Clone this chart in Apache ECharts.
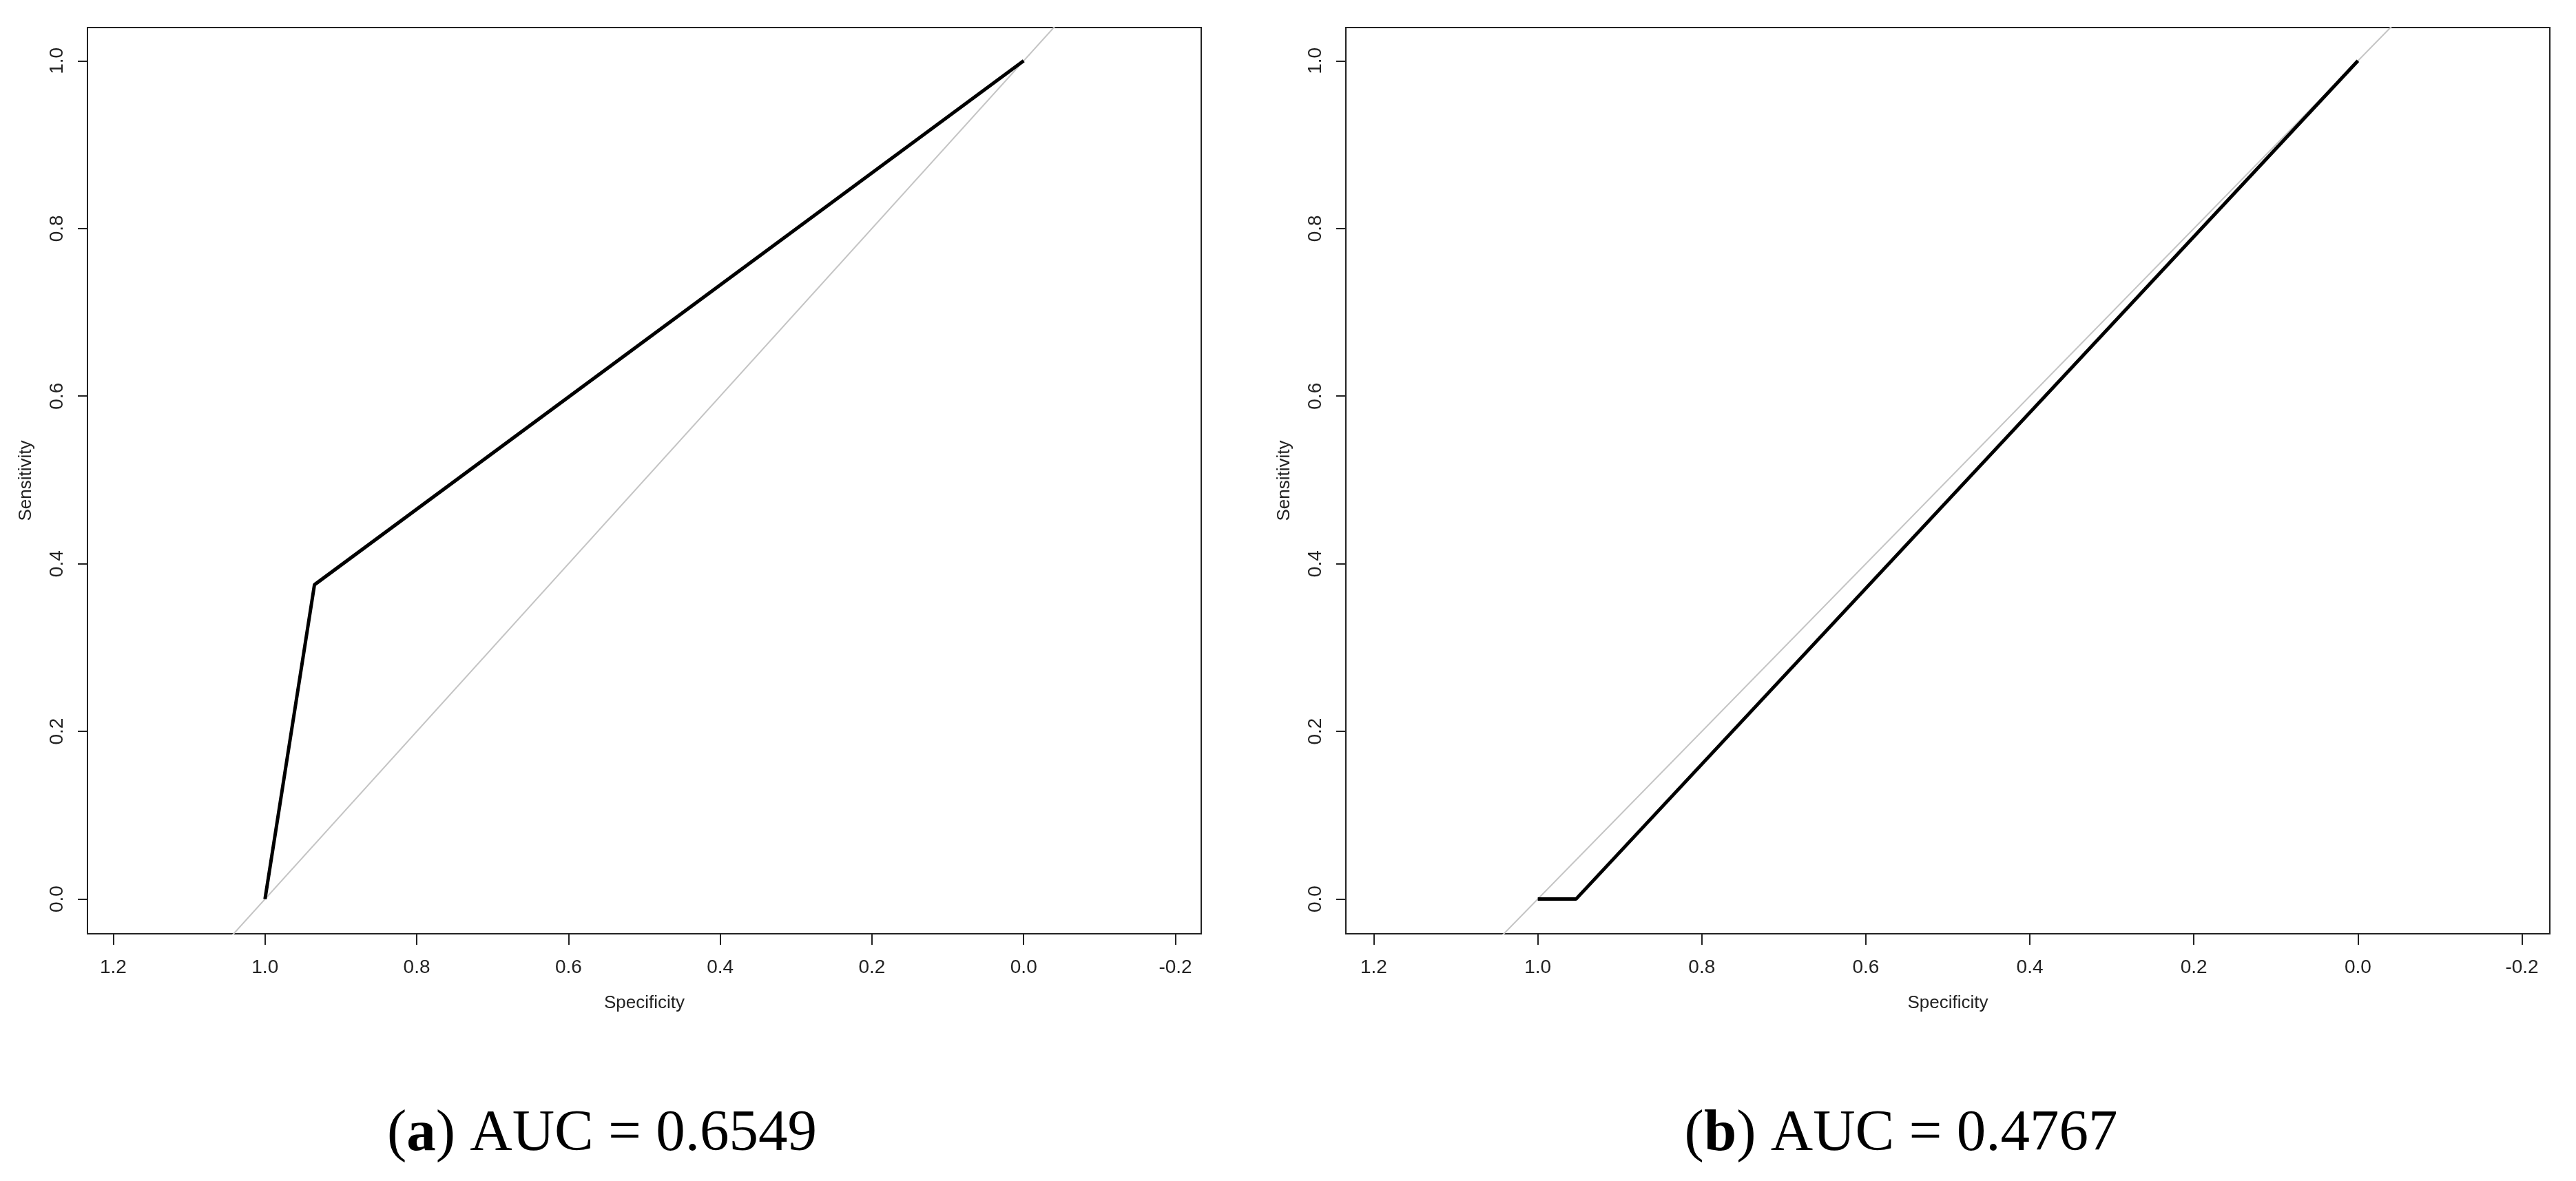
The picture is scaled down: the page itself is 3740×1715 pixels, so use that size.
<!DOCTYPE html>
<html><head><meta charset="utf-8">
<script src="https://cdn.jsdelivr.net/npm/echarts@6/dist/echarts.min.js"></script>
<style>html,body{margin:0;padding:0;background:#fff}#c{width:3740px;height:1715px}</style>
</head><body><div id="c"></div>
<script>
// ---- data ----
const xTicks = [1.2, 1.0, 0.8, 0.6, 0.4, 0.2, 0.0, -0.2];
const yTicks = [0.0, 0.2, 0.4, 0.6, 0.8, 1.0];
// ROC curves as [specificity, sensitivity]
const rocA = [[1.0, 0.0], [0.9348, 0.375], [0.0, 1.0]];
const rocB = [[1.0, 0.0], [0.9534, 0.0], [0.0, 1.0]];
// reference diagonal (sensitivity = 1 - specificity), clipped by the plot box
const diagonal = [[1.1, -0.1], [-0.1, 1.1]];
const panelLetters = ['a', 'b'];
const aucValues = ['0.6549', '0.4767'];
const xName = 'Specificity';
const yName = 'Sensitivity';

// ---- styling ----
const AX = '#222';
const LABEL_FONT = '"Liberation Sans Narrow", "Liberation Sans", Arial, sans-serif';
const fmt = v => Number(v).toFixed(1);

function xAxis(gi) {
  return {
    type: 'value', gridIndex: gi, inverse: true, min: -0.234, max: 1.234,
    name: xName, nameLocation: 'middle', nameGap: 88,
    nameTextStyle: { fontFamily: '"Liberation Sans", Arial, sans-serif', fontSize: 26, color: AX },
    axisLine: { show: false, onZero: false },
    axisTick: { show: true, length: 16, customValues: xTicks, lineStyle: { color: AX, width: 2 } },
    axisLabel: { show: true, customValues: xTicks, formatter: fmt, margin: 35,
      fontFamily: LABEL_FONT, fontSize: 28, color: AX },
    splitLine: { show: false }
  };
}
function yAxis(gi) {
  return {
    type: 'value', gridIndex: gi, min: -0.0414, max: 1.0397,
    name: yName, nameLocation: 'middle', nameGap: 76, nameRotate: 90,
    nameTextStyle: { fontFamily: '"Liberation Sans", Arial, sans-serif', fontSize: 26, color: AX },
    axisLine: { show: false, onZero: false },
    axisTick: { show: true, length: 14, customValues: yTicks, lineStyle: { color: AX, width: 2 } },
    axisLabel: { show: true, customValues: yTicks, formatter: fmt, rotate: 90, margin: 30,
      fontFamily: LABEL_FONT, fontSize: 28, color: AX },
    splitLine: { show: false }
  };
}
function caption(letter, auc, x) {
  return {
    type: 'text', x: x, y: 1648,
    style: {
      text: '{p|(}{b|' + letter + '}{p|) AUC = ' + auc + '}',
      align: 'center', verticalAlign: 'middle',
      rich: {
        p: { fontFamily: '"Liberation Serif", "Times New Roman", serif', fontSize: 85, fill: '#000' },
        b: { fontFamily: '"Liberation Serif", "Times New Roman", serif', fontSize: 85, fontWeight: 'bold', fill: '#000' }
      }
    }
  };
}
const diagStyle = { color: '#c4c4c4', width: 2 };
const rocStyle = { color: '#000', width: 5 };

const chart = echarts.init(document.getElementById('c'), null, { renderer: 'canvas' });
chart.setOption({
  animation: false,
  backgroundColor: '#fff',
  grid: [
    { left: 127, top: 40, width: 1617, height: 1316, show: true, borderColor: AX, borderWidth: 2, backgroundColor: 'transparent' },
    { left: 1954, top: 40, width: 1748, height: 1316, show: true, borderColor: AX, borderWidth: 2, backgroundColor: 'transparent' }
  ],
  xAxis: [xAxis(0), xAxis(1)],
  yAxis: [yAxis(0), yAxis(1)],
  series: [
    { type: 'line', xAxisIndex: 0, yAxisIndex: 0, data: diagonal, symbol: 'none', lineStyle: diagStyle, z: 2 },
    { type: 'line', xAxisIndex: 0, yAxisIndex: 0, data: rocA, symbol: 'none', lineStyle: rocStyle, z: 3 },
    { type: 'line', xAxisIndex: 1, yAxisIndex: 1, data: diagonal, symbol: 'none', lineStyle: diagStyle, z: 2 },
    { type: 'line', xAxisIndex: 1, yAxisIndex: 1, data: rocB, symbol: 'none', lineStyle: rocStyle, z: 3 }
  ],
  graphic: [caption(panelLetters[0], aucValues[0], 874), caption(panelLetters[1], aucValues[1], 2760)]
});
</script></body></html>
